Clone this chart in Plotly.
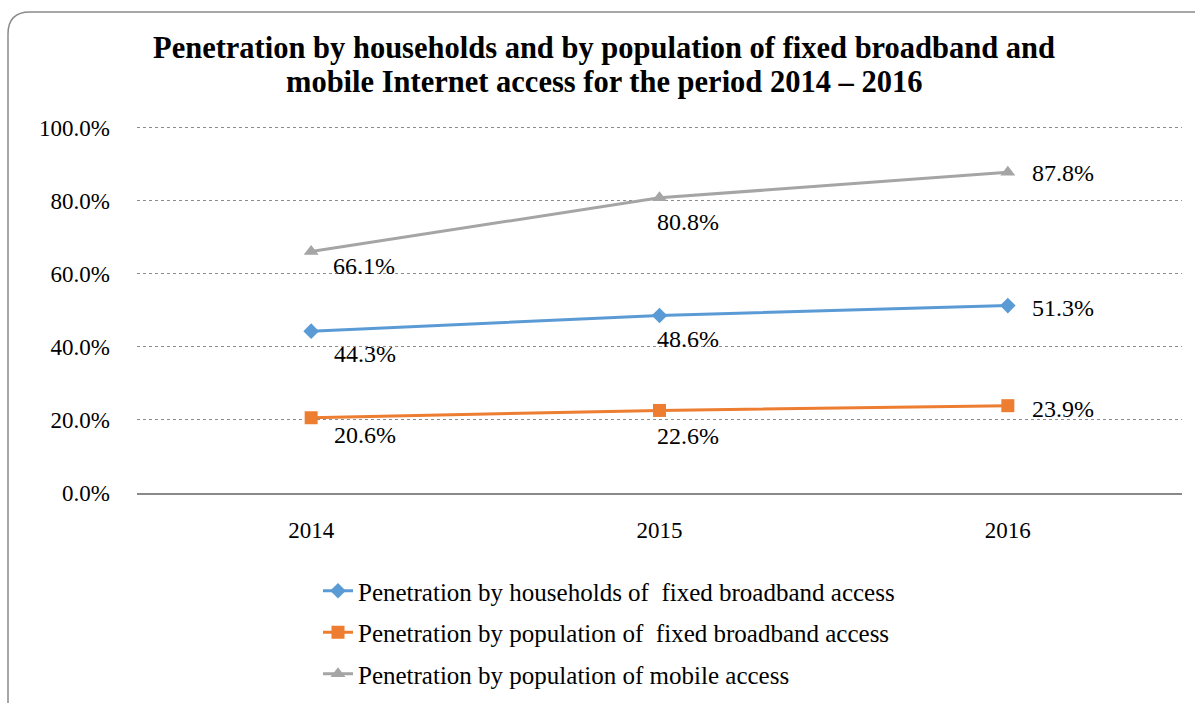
import plotly.graph_objects as go

# --- data -------------------------------------------------------------
years = ["2014", "2015", "2016"]
households_fixed = [44.3, 48.6, 51.3]
population_fixed = [20.6, 22.6, 23.9]
population_mobile = [66.1, 80.8, 87.8]

series_names = [
    "Penetration by households of  fixed broadband access",
    "Penetration by population of  fixed broadband access",
    "Penetration by population of mobile access",
]
title_lines = [
    "Penetration by households and by population of fixed broadband and",
    "mobile Internet access for the period 2014 – 2016",
]
y_ticks = [0, 20, 40, 60, 80, 100]

# --- styling ----------------------------------------------------------
FONT = "Liberation Serif"
colors = ["#5B9BD5", "#ED7D31", "#A5A5A5"]
symbols = ["diamond", "square", "triangle-up"]
marker_sizes = [12, 13, 13]
# per-point label offsets in pixels (x shift, y shift; negative y is down)
label_shifts = [
    [(21, -23), (-5, -24), (22, -2)],
    [(21, -17), (-5, -26), (22, -3)],
    [(20, -14), (-5, -24), (22, -1)],
]

W, H = 1195, 703
L, R, T, B = 137, 13, 124, 210
PW, PH = W - L - R, H - T - B


def px(x):
    return (x - L) / PW


def py(y):
    return (H - B - y) / PH


fig = go.Figure()
all_series = [households_fixed, population_fixed, population_mobile]
annotations = []
for i, (name, vals) in enumerate(zip(series_names, all_series)):
    fig.add_trace(go.Scatter(
        x=years, y=vals, name=name, mode="lines+markers",
        line=dict(color=colors[i], width=3),
        marker=dict(symbol=symbols[i], size=marker_sizes[i], color=colors[i]),
        legendgroup=f"g{i}",
        hoverinfo="skip",
    ))
    for j, v in enumerate(vals):
        dx, dy = label_shifts[i][j]
        annotations.append(dict(
            x=j, y=v, xref="x", yref="y", text=f"{v:.1f}%",
            showarrow=False, xanchor="left", yanchor="middle",
            xshift=dx, yshift=dy,
            font=dict(family=FONT, size=24, color="#000000"),
        ))

# two-line bold title
for k, (line, ty) in enumerate(zip(title_lines, [48, 82])):
    annotations.append(dict(
        x=px(604), y=py(ty), xref="paper", yref="paper",
        text=f"<b>{line}</b>", showarrow=False,
        xanchor="center", yanchor="middle",
        font=dict(family=FONT, size=30.5, color="#000000"),
    ))

# rounded chart border (extends beyond right and bottom edges)
x0, y0, r = 8, 12, 22
x1, y1 = W + 20, H + 20
path = (
    f"M {px(x0)},{py(y1)} L {px(x0)},{py(y0 + r)} "
    f"Q {px(x0)},{py(y0)} {px(x0 + r)},{py(y0)} "
    f"L {px(x1)},{py(y0)}"
)

fig.update_layout(
    width=W, height=H,
    margin=dict(l=L, r=R, t=T, b=B, autoexpand=False),
    paper_bgcolor="white", plot_bgcolor="white",
    font=dict(family=FONT, size=23, color="#000000"),
    xaxis=dict(
        type="category", range=[-0.5, 2.5],
        showline=True, linecolor="#898989", linewidth=2,
        showgrid=False, ticks="", zeroline=False,
        tickfont=dict(family=FONT, size=23),
        ticklabelstandoff=15,
        fixedrange=True,
    ),
    yaxis=dict(
        range=[0, 101], tickvals=y_ticks,
        ticktext=[f"{t:.1f}%" for t in y_ticks],
        showgrid=True, gridcolor="#8c8c8c", griddash="dot", gridwidth=1,
        showline=False, zeroline=False, ticks="",
        tickfont=dict(family=FONT, size=23),
        ticklabelstandoff=26,
        fixedrange=True,
    ),
    legend=dict(
        x=px(318), y=py(568), xanchor="left", yanchor="top",
        orientation="v", tracegroupgap=6,
        font=dict(family=FONT, size=25),
        bgcolor="rgba(0,0,0,0)",
    ),
    shapes=[dict(
        type="path", path=path, xref="paper", yref="paper",
        line=dict(color="#8a8a8a", width=1.5), layer="above",
    )],
    annotations=annotations,
    showlegend=True,
)

fig.write_html("out.html")
